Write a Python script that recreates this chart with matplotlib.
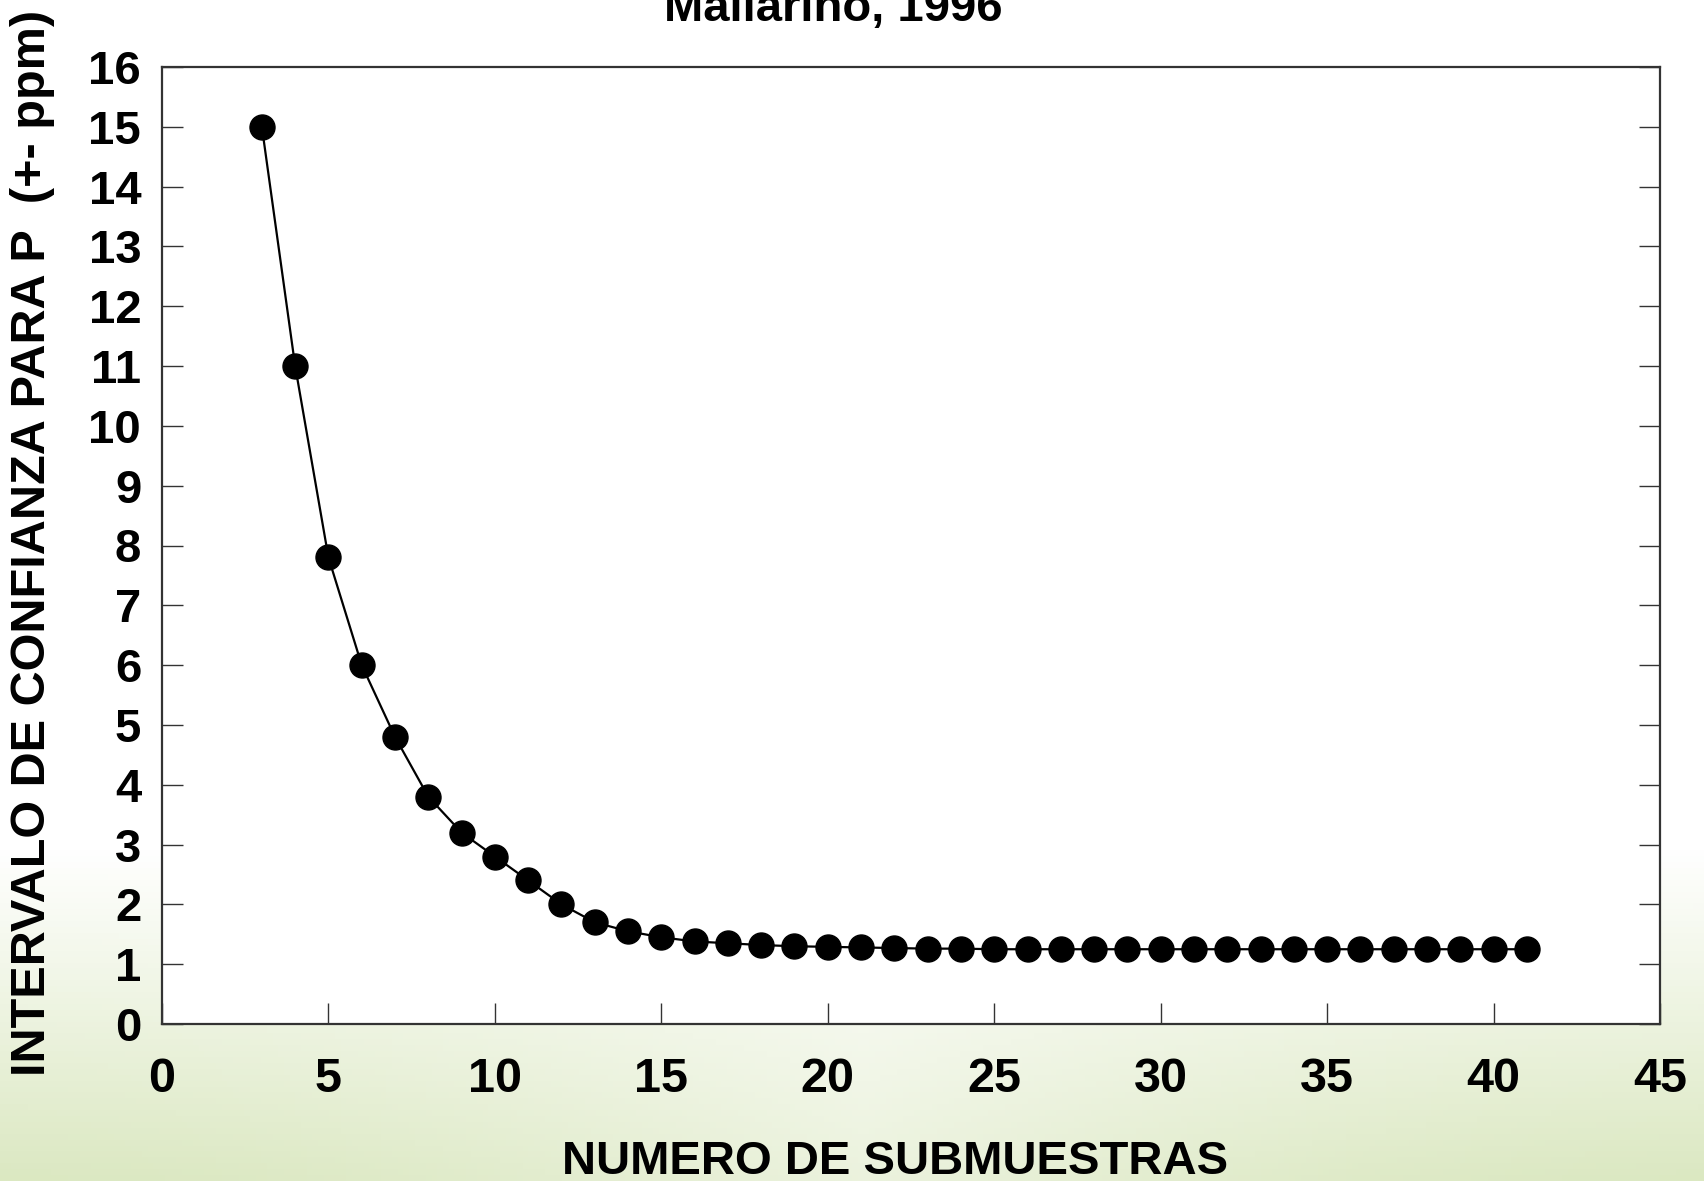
import matplotlib
matplotlib.use("Agg")
import matplotlib.pyplot as plt
import numpy as np

# Data
n_submuestras = list(range(3, 42))
intervalo = [15.0, 11.0, 7.8, 6.0, 4.8, 3.8, 3.2, 2.8, 2.4, 2.0,
             1.7, 1.55, 1.45, 1.38, 1.35, 1.32, 1.30, 1.29, 1.28, 1.27,
             1.26, 1.26, 1.25, 1.25, 1.25, 1.25, 1.25, 1.25, 1.25, 1.25,
             1.25, 1.25, 1.25, 1.25, 1.25, 1.25, 1.25, 1.25, 1.25]
x_ticks = [0, 5, 10, 15, 20, 25, 30, 35, 40, 45]
y_ticks = list(range(0, 17))

title = "Mallarino, 1996"
xlabel = "NUMERO DE SUBMUESTRAS"
ylabel = "INTERVALO DE CONFIANZA PARA P  (+- ppm)"

plt.rcParams['font.family'] = ['Liberation Sans', 'DejaVu Sans']
plt.rcParams['font.weight'] = 'bold'

W, H = 1704, 1181
fig = plt.figure(figsize=(W / 100, H / 100), dpi=100)

# slide background: white fading into a pale green at the bottom corners
bg = fig.add_axes([0, 0, 1, 1], zorder=-10)
yy, xx = np.mgrid[0:1:200j, 0:1:300j]
t = np.clip((yy - 0.72) / 0.28, 0, 1)
t = t * (0.55 + 0.45 * np.abs(np.cos(xx * 3.1)))
white = np.array([1.0, 1.0, 1.0])
green = np.array([0.86, 0.91, 0.76])
img = white[None, None, :] * (1 - t[..., None]) + green[None, None, :] * t[..., None]
bg.imshow(img, aspect='auto', extent=[0, 1, 1, 0])
bg.axis('off')

# main plot
ax = fig.add_axes([162 / W, 1 - 1024 / H, (1660 - 162) / W, (1024 - 67) / H])
ax.set_facecolor('white')
ax.plot(n_submuestras, intervalo, color='black', linewidth=1.6,
        marker='o', markersize=18, markerfacecolor='black', markeredgecolor='black')

ax.set_xlim(0, 45)
ax.set_ylim(0, 16)
ax.set_xticks(x_ticks)
ax.set_yticks(y_ticks)

ax.tick_params(axis='x', direction='in', length=15, width=1.0, pad=24,
               labelsize=35, color='#333333', top=False)
ax.tick_params(axis='y', direction='in', length=15, width=1.0, pad=15,
               labelsize=34, color='#333333', right=True)
for lab in ax.get_xticklabels() + ax.get_yticklabels():
    lab.set_fontweight('bold')

for s in ax.spines.values():
    s.set_linewidth(1.6)
    s.set_color('#333333')

fig.text(833 / W, 1 - 21 / H, title, ha='center', va='baseline',
         fontsize=34, fontweight='bold')
fig.text(895 / W, 1 - 1162 / H, xlabel, ha='center', va='center',
         fontsize=34, fontweight='bold')
fig.text(33 / W, 1 - 543 / H, ylabel, ha='center', va='center',
         rotation=90, fontsize=35, fontweight='bold')

fig.savefig('out.png', dpi=100)
